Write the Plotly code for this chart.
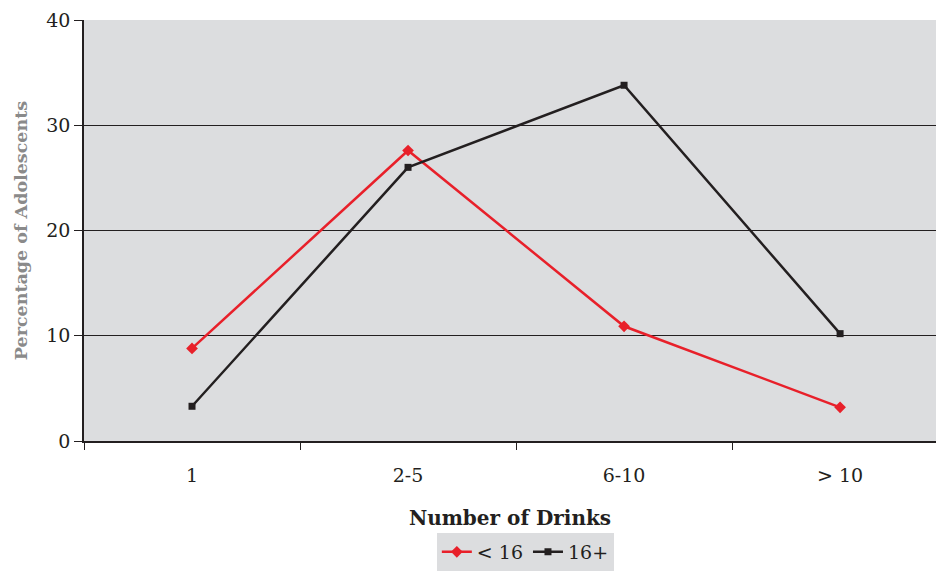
import plotly.graph_objects as go

categories = ["1", "2-5", "6-10", "> 10"]
under16 = [8.8, 27.6, 10.9, 3.2]
over16 = [3.3, 26.0, 33.8, 10.2]
y_ticks = [0, 10, 20, 30, 40]

font_family = "DejaVu Serif"

fig = go.Figure()
fig.add_trace(go.Scatter(
    x=categories, y=under16, name="< 16", mode="lines+markers",
    line=dict(color="#E8202A", width=2.5),
    marker=dict(symbol="diamond", size=9, color="#E8202A"),
))
fig.add_trace(go.Scatter(
    x=categories, y=over16, name="16+", mode="lines+markers",
    line=dict(color="#231F20", width=2.5),
    marker=dict(symbol="square", size=7, color="#231F20"),
))

fig.update_layout(
    width=936, height=571,
    margin=dict(l=84, r=0, t=20, b=130),
    paper_bgcolor="white",
    plot_bgcolor="#DCDDDF",
    font=dict(family=font_family, size=19, color="#231F20"),
    showlegend=True,
    legend=dict(
        orientation="h", x=0.518, xanchor="center",
        yref="container", y=0, yanchor="bottom",
        bgcolor="#DCDDDF", font=dict(size=19),
        itemwidth=30, tracegroupgap=0,
    ),
)
fig.update_xaxes(
    type="category", range=[-0.5, 3.444],
    showline=True, linecolor="#231F20", linewidth=1.5,
    showgrid=False, ticks="outside", tickson="boundaries",
    ticklen=7, tickcolor="#231F20", tickwidth=1,
    ticklabelstandoff=16,
    title=dict(text="<b>Number of Drinks</b>", font=dict(size=20), standoff=26),
)
fig.update_yaxes(
    range=[0, 40], tickvals=y_ticks,
    showline=True, linecolor="#231F20", linewidth=1.5,
    showgrid=True, gridcolor="#231F20", gridwidth=1.2,
    ticks="outside", ticklen=8, tickcolor="#231F20",
    zeroline=False,
    title=dict(text="<b>Percentage of Adolescents</b>",
               font=dict(size=17.5, color="#8A8A8A"), standoff=14),
)

fig.write_html("out.html", config={"displayModeBar": False},
               post_script="document.body.style.margin='0';")
